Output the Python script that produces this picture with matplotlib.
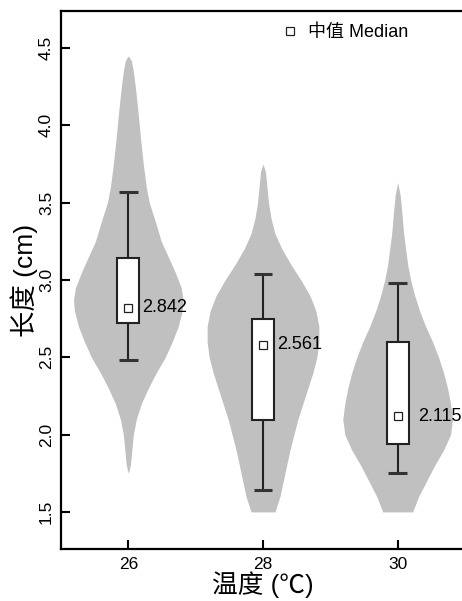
import numpy as np
import matplotlib
matplotlib.use("Agg")
import matplotlib.pyplot as plt
from matplotlib.lines import Line2D

plt.rcParams['font.family'] = ['Liberation Sans', 'Noto Sans CJK SC', 'DejaVu Sans']

# groupes (temperature)
groups = ['26', '28', '30']

# profils des violons : valeurs (cm) et demi-largeurs (px)
v26_y = [1.75, 1.8, 1.9, 2.0, 2.1, 2.2, 2.3, 2.4, 2.5, 2.6, 2.7, 2.8, 2.87, 2.95, 3.05,
         3.15, 3.25, 3.4, 3.5, 3.6, 3.75, 3.9, 4.0, 4.1, 4.25, 4.35, 4.42, 4.45]
v26_w = [0, 2, 3.5, 5, 8, 13, 20, 28, 37, 44, 50, 54, 55, 53, 47,
         40, 33, 26, 21, 18, 15, 12.5, 11, 9.5, 7, 5, 3, 0]
v28_y = [1.5, 1.6, 1.75, 1.9, 2.0, 2.1, 2.2, 2.3, 2.4, 2.5, 2.6, 2.7, 2.8, 2.9, 3.0,
         3.1, 3.2, 3.3, 3.4, 3.5, 3.6, 3.7, 3.75]
v28_w = [12, 17, 22, 27, 31, 35, 40, 45, 50, 54, 56, 56, 53, 47, 38,
         28, 19, 12, 8, 5.5, 4, 2.5, 0]
v30_y = [1.5, 1.6, 1.7, 1.8, 1.9, 2.0, 2.1, 2.2, 2.3, 2.4, 2.5, 2.6, 2.7, 2.8, 2.9,
         3.0, 3.1, 3.2, 3.3, 3.45, 3.55, 3.63]
v30_w = [15, 21, 29, 37, 46, 53, 55, 53, 50, 46, 41, 35, 28, 22, 17,
         13, 10, 8, 6, 4, 2.5, 0]

# statistiques des boites
whisk_lo = [2.48, 1.64, 1.75]
q1 = [2.72, 2.095, 1.94]
q3 = [3.145, 2.75, 2.60]
whisk_hi = [3.57, 3.04, 2.98]
median_pos = [2.82, 2.58, 2.12]
median_txt = ['2.842', '2.561', '2.115']

violin_y = [v26_y, v28_y, v30_y]
violin_w = [v26_w, v28_w, v30_w]

fig = plt.figure(figsize=(4.62, 6.01), dpi=100)
ax = fig.add_axes([61 / 462, 1 - 549 / 601, 404 / 462, 538 / 601])

px = 1 / 135.0  # une categorie = 135 px
for i in range(3):
    y = np.array(violin_y[i])
    w = np.array(violin_w[i]) * px
    ax.fill_betweenx(y, i - w, i + w, color='#c0c0c0', lw=0, zorder=1)

box_w = 0.163
cap_w = 0.14
text_gap = [0.022, 0.022, 0.07]
for i in range(3):
    ax.vlines(i, whisk_lo[i], q1[i], color='#222222', lw=1.5, zorder=2)
    ax.vlines(i, q3[i], whisk_hi[i], color='#222222', lw=1.5, zorder=2)
    ax.hlines([whisk_lo[i], whisk_hi[i]], i - cap_w / 2, i + cap_w / 2,
              color='#333333', lw=2.2, zorder=2)
    ax.bar(i, q3[i] - q1[i], bottom=q1[i], width=box_w, color='white',
           edgecolor='#222222', lw=1.5, zorder=3)
    ax.plot(i, median_pos[i], marker='s', ms=5.5, mfc='white', mec='#222222',
            mew=0.9, ls='none', zorder=4)
    ax.text(i + box_w / 2 + text_gap[i], median_pos[i], median_txt[i], fontsize=13,
            va='center', ha='left', zorder=5)

ax.set_xlim(-0.5, 2.5)
ax.set_ylim(1.26, 4.74)
ax.set_xticks(range(3))
ax.set_xticklabels(groups)
ax.set_yticks([1.5, 2.0, 2.5, 3.0, 3.5, 4.0, 4.5])
ax.set_yticklabels(['1.5', '2.0', '2.5', '3.0', '3.5', '4.0', '4.5'],
                   rotation=90, va='center')

for s in ['top', 'left', 'bottom']:
    ax.spines[s].set_linewidth(1.6)
ax.spines['right'].set_visible(False)
ax.tick_params(direction='in', length=6.5, width=1.5, labelsize=12.5, pad=5)
ax.tick_params(axis='x', pad=6)

ax.set_xlabel('温度 (℃)', fontsize=18.5, labelpad=-1)
ax.set_ylabel('长度 (cm)', fontsize=19, labelpad=1)

handle = Line2D([], [], marker='s', ms=5.5, mfc='white', mec='#222222',
                mew=0.9, ls='none')
ax.legend([handle], ['中值 Median'], loc='upper left', bbox_to_anchor=(0.545, 0.975),
          frameon=False, fontsize=13, handlelength=1, handletextpad=0.5,
          borderaxespad=0, borderpad=0)

fig.savefig('out.png', dpi=100)
